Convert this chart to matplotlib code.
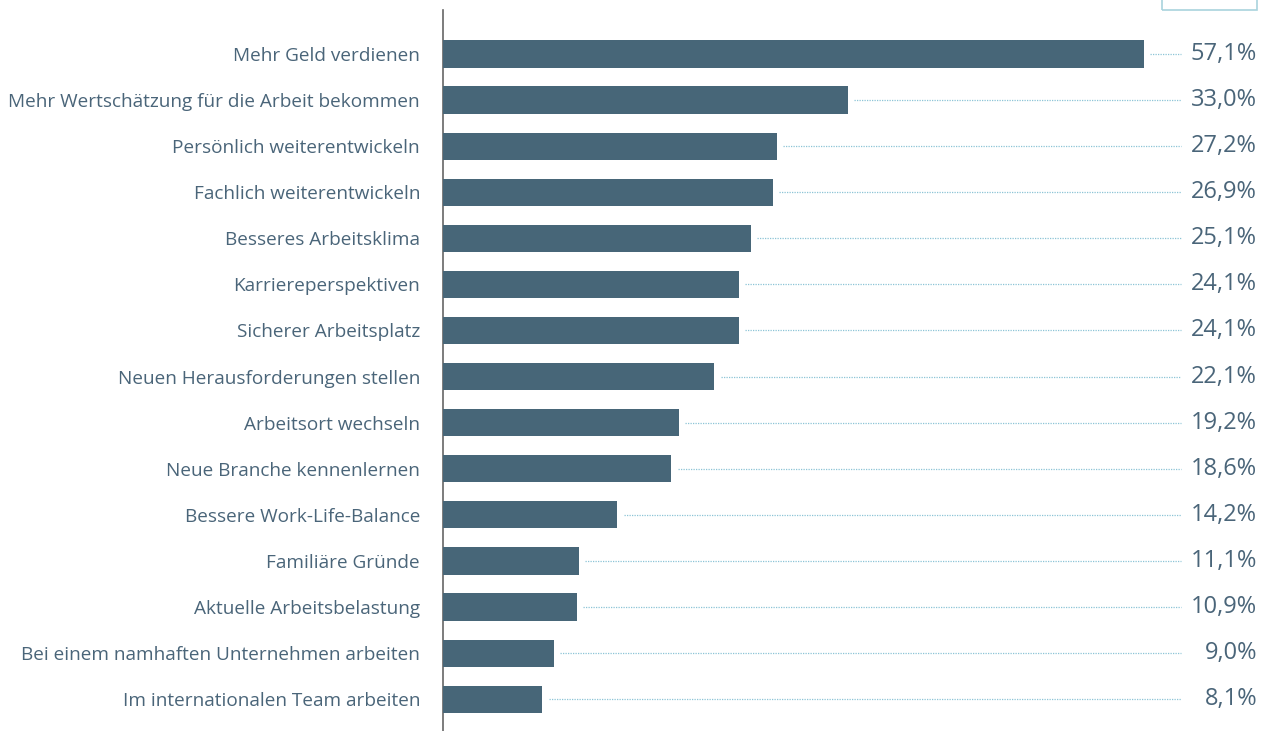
import matplotlib.pyplot as plt
from matplotlib.patches import Rectangle

categories = [
    "Mehr Geld verdienen",
    "Mehr Wertschätzung für die Arbeit bekommen",
    "Persönlich weiterentwickeln",
    "Fachlich weiterentwickeln",
    "Besseres Arbeitsklima",
    "Karriereperspektiven",
    "Sicherer Arbeitsplatz",
    "Neuen Herausforderungen stellen",
    "Arbeitsort wechseln",
    "Neue Branche kennenlernen",
    "Bessere Work-Life-Balance",
    "Familiäre Gründe",
    "Aktuelle Arbeitsbelastung",
    "Bei einem namhaften Unternehmen arbeiten",
    "Im internationalen Team arbeiten",
]
values = [57.1, 33.0, 27.2, 26.9, 25.1, 24.1, 24.1, 22.1, 19.2, 18.6, 14.2, 11.1, 10.9, 9.0, 8.1]

bar_color = "#476678"
text_color = "#4a6579"
dot_color = "#8cc4d6"

plt.rcParams['font.family'] = ['Open Sans', 'DejaVu Sans']

W, H = 1269, 731
fig = plt.figure(figsize=(W / 100, H / 100), dpi=100)
ax_left, ax_right = 443, 1181
ax_top, ax_bottom = 10, 731
ax = fig.add_axes([ax_left / W, 1 - ax_bottom / H, (ax_right - ax_left) / W, (ax_bottom - ax_top) / H])

# 12.28 px per percent point
xmax = (ax_right - ax_left) / 12.28
ax.set_xlim(0, xmax)
ax.set_ylim(14.69, -0.954)

y = list(range(len(values)))
ax.barh(y, values, height=0.59, color=bar_color, zorder=3)

# dotted leader lines + value labels at right edge
for yi, v in zip(y, values):
    ax.plot([v + 0.5, xmax], [yi, yi], linestyle=(0, (1, 1)), color=dot_color, lw=0.9,
            clip_on=False, zorder=2)
    ax.annotate(f"{v:.1f}%".replace(".", ","), xy=(1257 / W, yi),
                xycoords=("figure fraction", "data"), ha="right", va="center",
                fontsize=17, color=text_color)

ax.set_yticks(y)
ax.set_yticklabels(categories, fontsize=13.7, color=text_color)
ax.tick_params(axis="y", length=0, pad=16.5)
ax.set_xticks([])
for s in ["top", "right", "bottom"]:
    ax.spines[s].set_visible(False)
ax.spines["left"].set_color("#666666")
ax.spines["left"].set_linewidth(1.2)

# partially visible box at the top right
fig.patches.append(Rectangle((1162 / W, 1 - 10 / H), 95 / W, 20 / H, transform=fig.transFigure,
                             fill=False, edgecolor="#a9d3dd", lw=1.2))

fig.savefig("out.png", dpi=100)
